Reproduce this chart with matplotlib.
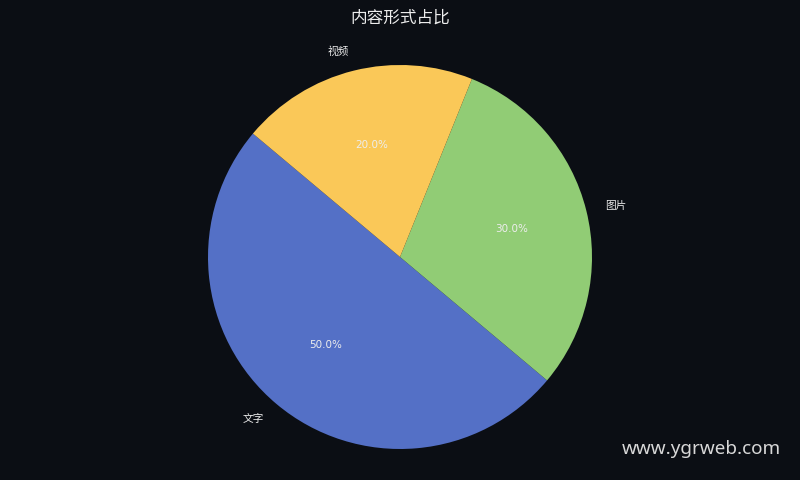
import matplotlib
matplotlib.use("Agg")
import matplotlib.pyplot as plt

# data
labels = ["文字", "图片", "视频"]
shares = [50, 30, 20]
colors = ["#5470c6", "#91cc75", "#fac858"]

BG = "#0b0e14"
TXT = "#ededed"

plt.rcParams['font.family'] = ['Noto Sans CJK SC', 'DejaVu Sans']

fig = plt.figure(figsize=(8, 4.8), dpi=100, facecolor=BG)
ax = fig.add_axes([0.26, 0.0646, 0.48, 0.8])
ax.set_facecolor(BG)

wedges, texts, autotexts = ax.pie(
    shares, labels=labels, colors=colors, startangle=140,
    autopct="%1.1f%%", pctdistance=0.6, labeldistance=1.1,
    textprops={"color": TXT, "fontsize": 7.7})
for t in autotexts:
    t.set_family("DejaVu Sans")
    t.set_fontsize(7.5)
ax.set_xlim(-1, 1)
ax.set_ylim(-1, 1)
ax.set_aspect("equal")
ax.axis("off")

fig.text(0.5, 0.962, "内容形式占比", ha="center", va="center",
         color=TXT, fontsize=12)
fig.text(0.976, 0.065, "www.ygrweb.com", ha="right", va="center",
         color="#d8d8d8", fontsize=13.6, family="Noto Sans")

fig.savefig("out.png", facecolor=BG)
